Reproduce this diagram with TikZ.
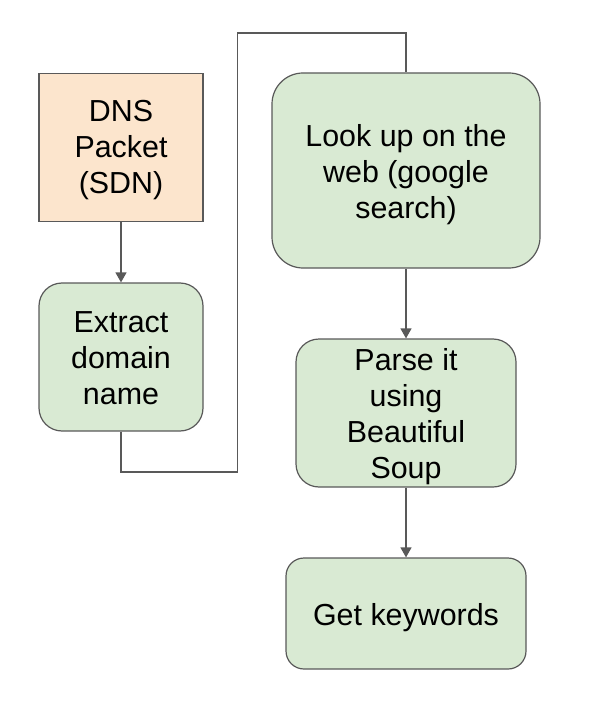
\documentclass[tikz,border=0pt]{standalone}
\usepackage{fontspec}
\setmainfont{Liberation Sans}
\usetikzlibrary{arrows.meta}
\definecolor{peach}{HTML}{FCE5CD}
\definecolor{lgreen}{HTML}{D9EAD3}
\definecolor{edge}{HTML}{595959}
\newcommand{\tstr}[1][30.5pt]{\rule{0pt}{#1}}
\newcommand{\bstr}{\rule[-7pt]{0pt}{7pt}}
\begin{document}
\begin{tikzpicture}[x=1pt,y=-1pt,
  box/.style={draw=edge,line width=1.2pt,align=center,inner sep=0pt,
    font=\fontsize{30.4}{36}\selectfont},
  conn/.style={draw=edge,line width=1.3pt},
  arr/.style={conn,-{Triangle[width=11pt,length=10pt]}}]
\useasboundingbox (0,0) rectangle (593,703);
\node[box,fill=peach,minimum width=164pt,minimum height=148pt] (dns) at (121,147.5) {\tstr[28pt]DNS\\Packet\\(SDN)\bstr};
\node[box,fill=lgreen,rounded corners=23pt,minimum width=164pt,minimum height=148pt] (ext) at (121,357) {\tstr Extract\\domain\\name\bstr};
\node[box,fill=lgreen,rounded corners=31pt,minimum width=268pt,minimum height=195pt] (look) at (406,170.5) {\tstr Look up on the\\web (google\\search)\bstr};
\node[box,fill=lgreen,rounded corners=23pt,minimum width=220pt,minimum height=148pt] (parse) at (406,413) {\tstr Parse it\\using\\Beautiful\\Soup\bstr};
\node[box,fill=lgreen,rounded corners=18pt,minimum width=240pt,minimum height=111pt] (get) at (406,613.5) {\tstr Get keywords\bstr};
\coordinate (c1) at (237.5,472);
\coordinate (c2) at (237.5,33);
\draw[arr] (dns.south) -- (ext.north);
\draw[conn] (ext.south) |- (c1) -- (c2) -| (look.north);
\draw[arr] (look.south) -- (parse.north);
\draw[arr] (parse.south) -- (get.north);
\end{tikzpicture}
\end{document}
